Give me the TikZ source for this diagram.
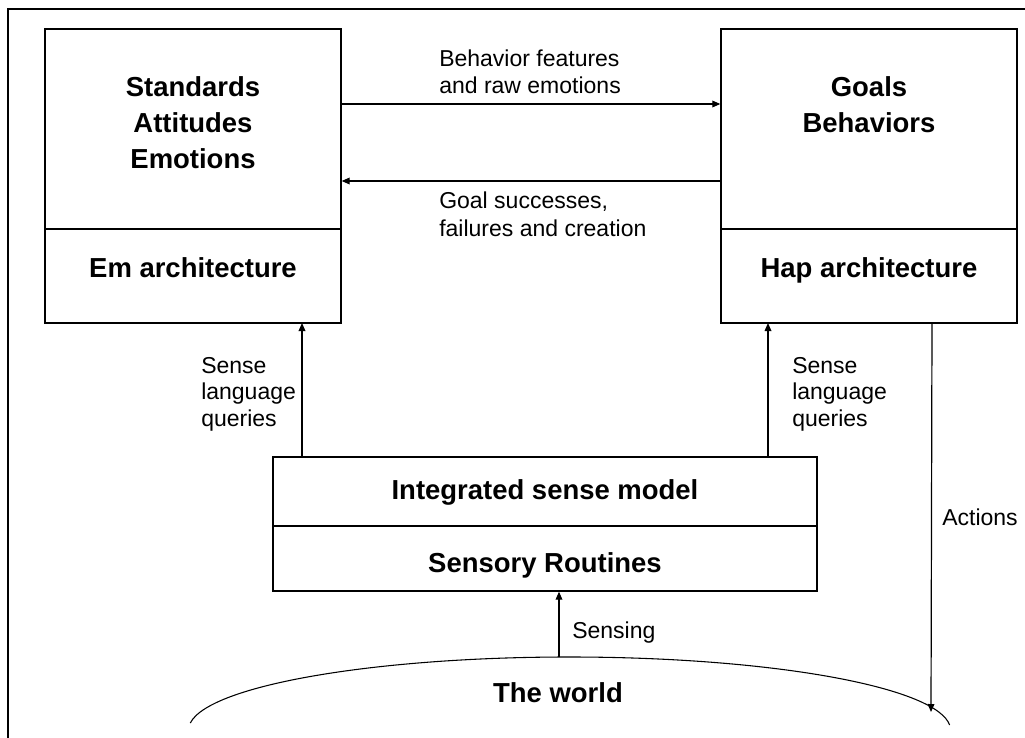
\documentclass[tikz,border=0pt]{standalone}
\usepackage{fontspec}
\setmainfont{Liberation Sans}
\usetikzlibrary{arrows.meta}

\begin{document}
\begin{tikzpicture}[x=0.75pt,y=-0.75pt,
  box/.style={draw, line width=1pt, inner sep=0pt, minimum width=222pt},
  big/.style={font=\fontsize{20.6pt}{24pt}\selectfont\bfseries, inner sep=0pt, anchor=base},
  small/.style={font=\fontsize{17.25pt}{20pt}\selectfont, inner sep=0pt, anchor=base west},
  arr/.style={line width=0.9pt, -{Triangle[length=6pt,width=5pt]}},
  plain/.style={line width=0.9pt}]
\clip (0,0) rectangle (1025,738);
\fill[white] (0,0) rectangle (1025,738);

% outer frame (runs off the right and bottom edges)
\draw[line width=1pt] (8,9) rectangle (1045,760);

% Em architecture
\node[box, minimum height=150pt] (emt) at (193,129) {};
\node[box, minimum height=70.5pt] (emb) at (193,276) {};
\node[big] (em1) at (193,97) {Standards};
\node[big] (em2) at (193,133) {Attitudes};
\node[big] (em3) at (193,168.5) {Emotions};
\node[big] (em4) at (193,277) {Em architecture};

% Hap architecture
\node[box, minimum height=150pt] (gbt) at (869,129) {};
\node[box, minimum height=70.5pt] (gbb) at (869,276) {};
\node[big] (gb1) at (869,97) {Goals};
\node[big] (gb2) at (869,133) {Behaviors};
\node[big] (gb3) at (869,277) {Hap architecture};

% Integrated sense model
\node[box, minimum width=408pt, minimum height=51.75pt] (ist) at (545,491.5) {};
\node[box, minimum width=408pt, minimum height=48.75pt] (isb) at (545,558.5) {};
\node[big] (is1) at (545,499) {Integrated sense model};
\node[big] (is2) at (545,572) {Sensory Routines};

% The world
\draw[line width=0.8pt] (190.3,723) arc[start angle=185.5, end angle=356.1, x radius=381, y radius=73];
\node[big] (world) at (558,702) {The world};
\coordinate (worldtop) at (559,657);
\coordinate (worldact) at (931,712);

% connectors between Em and Hap
\coordinate (h1) at (341,104);
\coordinate (h2) at (721,181);
\draw[arr] (h1) -- (h1 -| gbt.west);
\draw[arr] (h2) -- (h2 -| emt.east);
\node[small] (bf1) at (439,67) {Behavior features};
\node[small] (bf2) at (439,94) {and raw emotions};
\node[small] (gs1) at (439,209) {Goal successes,};
\node[small] (gs2) at (439,237) {failures and creation};

% sense language queries
\coordinate (qa) at (302,323);
\coordinate (qb) at (768,323);
\draw[arr] (qa |- ist.north) -- (qa);
\draw[arr] (qb |- ist.north) -- (qb);
\node[small] (sl1) at (201,373) {Sense};
\node[small] (sl2) at (201,399.5) {language};
\node[small] (sl3) at (201,426) {queries};
\node[small] (sr1) at (792,373) {Sense};
\node[small] (sr2) at (792,399.5) {language};
\node[small] (sr3) at (792,426) {queries};

% actions and sensing
\coordinate (act) at (932,323);
\draw[arr] (act) -- (worldact);
\node[small] (actl) at (942,525) {Actions};
\draw[arr] (worldtop) -- (worldtop |- isb.south);
\node[small] (sens) at (572,638) {Sensing};
\end{tikzpicture}
\end{document}
